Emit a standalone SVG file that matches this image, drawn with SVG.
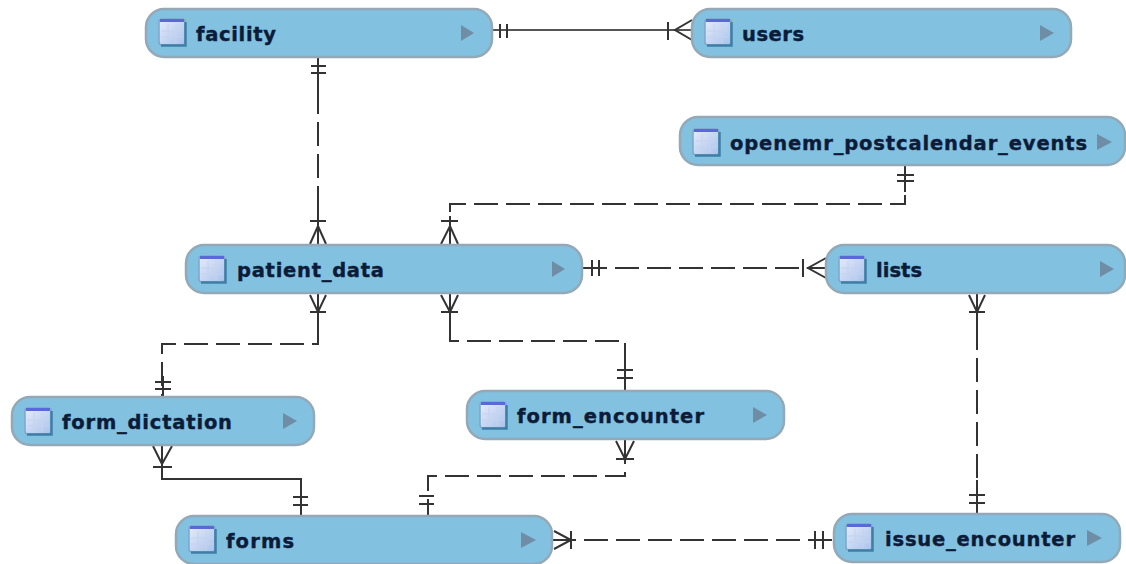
<svg xmlns="http://www.w3.org/2000/svg" width="1126" height="564" viewBox="0 0 1126 564">
<defs>
<linearGradient id="ic" x1="0" y1="0" x2="1" y2="1"><stop offset="0" stop-color="#e6ecfb"/><stop offset="1" stop-color="#a9c2ea"/></linearGradient>
<g id="icon">
<rect x="0" y="0" width="26" height="26" rx="3" fill="url(#ic)" stroke="#7fa5cc" stroke-width="1.5"/>
<path d="M1 1.5H25" stroke="#5a68d8" stroke-width="3" fill="none"/>
<path d="M2 26.5H26.5V3" stroke="#3f7fa6" stroke-width="2.5" fill="none"/>
<path d="M9 5V24M17 5V24M2 12H24M2 18H24" stroke="#c4d2f0" stroke-width="1" fill="none"/>
</g>
</defs>
<style>
.box{fill:#83c1e1;stroke:#93a9b8;stroke-width:2.5}
.t{font-family:"DejaVu Sans","Liberation Sans",sans-serif;font-weight:700;font-size:19.5px;fill:#0c1c38;stroke:#0c1c38;stroke-width:.4}
.tri{fill:#6f8ea5}
.c{fill:none;stroke:#333;stroke-width:2}
.d{stroke-dasharray:24 8}
.s{stroke:#555}
</style>
<rect width="1126" height="564" fill="#fff"/>
<g id="connectors">
<path class="c s" d="M493 30H692"/>
<path class="c" d="M500 24V38M507 24V38M668 22V40M692 20L675 30L692 40"/>
<path class="c d" d="M318 58V244"/>
<path class="c" d="M311 66H326M311 73H326M318 58V90M310 221H326M310 244L318 226L326 244M318 200V244"/>
<path class="c d" d="M450 244V204H905V166"/>
<path class="c" d="M441 221H458M441 244L450 226L458 244M450 216V244M897 175H914M897 181H914M905 166V192"/>
<path class="c d" d="M583 268H826"/>
<path class="c" d="M592 260V276M599 260V276M803 259V277M826 258L808 268L826 278"/>
<path class="c d" d="M318 294V344H162V397"/>
<path class="c" d="M310 312H326M310 295L318 312L326 295M318 294V334M155 382H171M155 389H171M163 376V397"/>
<path class="c d" d="M450 294V341H625V391"/>
<path class="c" d="M441 312H458M441 295L450 312L458 295M450 294V332M617 370H633M617 378H633M625 360V391"/>
<path class="c" d="M162 445V479H301V516"/>
<path class="c" d="M153 467H172M153 446L162 464L172 446M293 497H308M293 505H308"/>
<path class="c d" d="M625 440V476H428V516"/>
<path class="c" d="M616 459H634M616 441L625 459L634 441M419 496H434M419 504H434"/>
<path class="c d" d="M552 540H833"/>
<path class="c" d="M571 531V549M554 531L571 540L554 549M815 531V549M823 531V549"/>
<path class="c d" d="M977 294V514"/>
<path class="c" d="M969 312H985M969 295L977 312L985 295M977 294V330M969 495H985M969 503H985M977 480V514"/>
</g>
<g id="facility"><rect class="box" x="146" y="9" width="346" height="48" rx="18"/><use href="#icon" x="159" y="19"/><text class="t" x="196" y="41" textLength="80">facility</text><path class="tri" d="M461 25L474 33L461 41Z"/></g>
<g id="users"><rect class="box" x="692" y="9" width="379" height="48" rx="18"/><use href="#icon" x="705" y="19"/><text class="t" x="742" y="41" textLength="62">users</text><path class="tri" d="M1040 25L1054 33L1040 41Z"/></g>
<g id="openemr_postcalendar_events"><rect class="box" x="680" y="117" width="445" height="48" rx="18"/><use href="#icon" x="693" y="129"/><text class="t" x="730" y="150" textLength="357">openemr_postcalendar_events</text><path class="tri" d="M1097 134L1112 142L1097 150Z"/></g>
<g id="patient_data"><rect class="box" x="186" y="245" width="396" height="48" rx="18"/><use href="#icon" x="199" y="256"/><text class="t" x="237" y="277" textLength="147">patient_data</text><path class="tri" d="M552 261L565 269L552 277Z"/></g>
<g id="lists"><rect class="box" x="826" y="245" width="299" height="48" rx="18"/><use href="#icon" x="839" y="256"/><text class="t" x="876" y="277" textLength="46">lists</text><path class="tri" d="M1100 261L1114 269L1100 277Z"/></g>
<g id="form_dictation"><rect class="box" x="12" y="397" width="302" height="48" rx="18"/><use href="#icon" x="25" y="408"/><text class="t" x="62" y="429" textLength="170">form_dictation</text><path class="tri" d="M283 413L297 421L283 429Z"/></g>
<g id="form_encounter"><rect class="box" x="467" y="391" width="317" height="48" rx="18"/><use href="#icon" x="480" y="402"/><text class="t" x="517" y="423" textLength="187">form_encounter</text><path class="tri" d="M753 407L767 415L753 423Z"/></g>
<g id="forms"><rect class="box" x="176" y="516" width="376" height="48" rx="18"/><use href="#icon" x="189" y="526"/><text class="t" x="226" y="548" textLength="68">forms</text><path class="tri" d="M521 532L536 540L521 548Z"/></g>
<g id="issue_encounter"><rect class="box" x="834" y="514" width="286" height="48" rx="18"/><use href="#icon" x="846" y="524"/><text class="t" x="885" y="546" textLength="190">issue_encounter</text><path class="tri" d="M1087 530L1102 538L1087 546Z"/></g>
</svg>
